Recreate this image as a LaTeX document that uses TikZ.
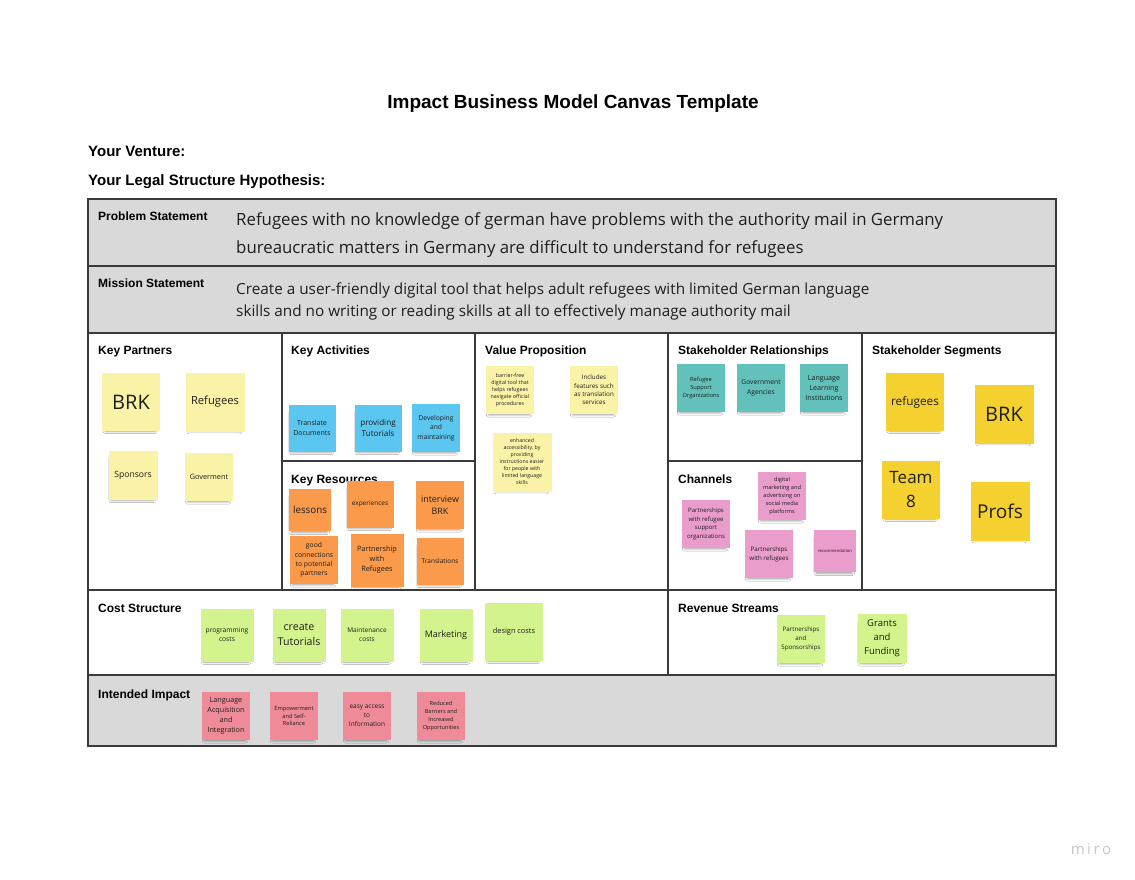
\documentclass[tikz,border=0pt]{standalone}
\usepackage{fontspec}
\setmainfont{Liberation Sans}
\newfontfamily\osans{Open Sans}
\usetikzlibrary{shadows.blur}
\definecolor{lineC}{HTML}{3A3A3A}
\definecolor{grayF}{HTML}{D9D9D9}
\definecolor{cYl}{HTML}{FAF2A6}
\definecolor{cYd}{HTML}{F5D130}
\definecolor{cBl}{HTML}{5BC6F0}
\definecolor{cOr}{HTML}{FA9A4A}
\definecolor{cTe}{HTML}{62C1BB}
\definecolor{cPi}{HTML}{EA9CCB}
\definecolor{cGr}{HTML}{D3F38C}
\definecolor{cRe}{HTML}{EF8B98}
\definecolor{noteText}{HTML}{1E1E1E}
\definecolor{miroC}{HTML}{C5C5CE}
\newcommand\setfs[2]{\fontsize{#1}{#2}\selectfont}
\begin{document}
\begin{tikzpicture}[x=1pt,y=-1pt,
  frame/.style={draw=lineC, line width=1.4pt},
  head/.style={anchor=base west, font=\setfs{12}{14}\bfseries, inner sep=0pt},
  stick/.style n args={3}{minimum width=#1pt, minimum height=#1pt, inner sep=0.5pt, align=center,
    text=noteText, font=\osans\setfs{#2}{#3},
    blur shadow={shadow xshift=-1pt, shadow yshift=-5pt, shadow scale=0.86,
      shadow blur radius=2.5pt, shadow opacity=38}},
  stmt/.style={anchor=base west, inner sep=0pt, text=noteText},
]
\useasboundingbox[fill=white] (0,0) rectangle (1135,880);
% titles
\node[anchor=base, inner sep=0pt, font=\setfs{19}{22}\bfseries] (title) at (573,109) {Impact Business Model Canvas Template};
\node[anchor=base west, inner sep=0pt, font=\setfs{15}{18}\bfseries] (venture) at (88,157) {Your Venture:};
\node[anchor=base west, inner sep=0pt, font=\setfs{15}{18}\bfseries] (legal) at (88,185.5) {Your Legal Structure Hypothesis:};
% gray rows
\fill[grayF] (88,199) rectangle (1056,333);
\fill[grayF] (88,675) rectangle (1056,746);
% grid
\draw[frame] (88,199) rectangle (1056,746);
\draw[frame] (88,266) -- (1056,266);
\draw[frame] (88,333) -- (1056,333);
\draw[frame] (88,590) -- (1056,590);
\draw[frame] (88,675) -- (1056,675);
\foreach \xx in {282,475,668,862} \draw[frame] (\xx,333) -- (\xx,590);
\draw[frame] (282,461) -- (475,461);
\draw[frame] (668,461) -- (862,461);
\draw[frame] (668,590) -- (668,675);
% headings
\node[head] (hPS) at (98,220.5) {Problem Statement};
\node[head] (hMS) at (98,287.5) {Mission Statement};
\node[head] (hKP) at (98,354.3) {Key Partners};
\node[head] (hKA) at (291,354.3) {Key Activities};
\node[head] (hVP) at (485,354.3) {Value Proposition};
\node[head] (hSR) at (678,354.3) {Stakeholder Relationships};
\node[head] (hSS) at (872,354.3) {Stakeholder Segments};
\node[head] (hKR) at (291,483) {Key Resources};
\node[head] (hCH) at (678,483) {Channels};
\node[head] (hCS) at (98,612.5) {Cost Structure};
\node[head] (hRS) at (678,612.5) {Revenue Streams};
\node[head] (hII) at (98,698) {Intended Impact};
% statements
\node[stmt, font=\osans\setfs{16.8}{24}] (ps1) at (236,225.5) {Refugees with no knowledge of german have problems with the authority mail in Germany};
\node[stmt, font=\osans\setfs{16.8}{24}] (ps2) at (236,253.5) {bureaucratic matters in Germany are difficult to understand for refugees};
\node[stmt, font=\osans\setfs{15.3}{22}] (ms1) at (236,294.3) {Create a user-friendly digital tool that helps adult refugees with limited German language};
\node[stmt, font=\osans\setfs{15.3}{22}] (ms2) at (236,316.7) {skills and no writing or reading skills at all to effectively manage authority mail};
% Key Partners
\node[stick={58}{20}{24}, fill=cYl] (kp1) at (131,402) {BRK};
\node[stick={59}{11.2}{14}, fill=cYl] (kp2) at (215,402) {Refugees};
\node[stick={49}{8.6}{11}, fill=cYl] (kp3) at (133,475) {Sponsors};
\node[stick={48}{7.3}{9}, fill=cYl] (kp4) at (209,477) {Goverment};
% Key Activities
\node[stick={47}{7}{9.5}, fill=cBl] (ka1) at (312,428) {Translate\\Documents};
\node[stick={47}{8.1}{10.5}, fill=cBl] (ka2) at (378,428) {providing\\Tutorials};
\node[stick={48}{6.7}{9.3}, fill=cBl] (ka3) at (436,428) {Developing\\and\\maintaining};
% Key Resources
\node[stick={42}{9.8}{12}, fill=cOr] (kr1) at (310,510) {lessons};
\node[stick={47}{6.5}{8}, fill=cOr] (kr2) at (370,504) {experiences};
\node[stick={48}{8.9}{11.5}, fill=cOr] (kr3) at (440,505) {interview\\BRK};
\node[stick={48}{6.8}{9.2}, fill=cOr] (kr4) at (314,560) {good\\connections\\to potential\\partners};
\node[stick={53}{7.3}{10}, fill=cOr] (kr5) at (377,560) {Partnership\\with\\Refugees};
\node[stick={47}{6.5}{8}, fill=cOr] (kr6) at (440,561) {Translations};
% Value Proposition
\node[stick={48}{5.3}{7}, fill=cYl] (vp1) at (510,390) {barrier-free\\digital tool that\\helps refugees\\navigate official\\procedures};
\node[stick={48}{6.3}{8.3}, fill=cYl] (vp2) at (594,390) {Includes\\features such\\as translation\\services};
\node[stick={59}{5.2}{7}, fill=cYl] (vp3) at (522,462) {enhanced\\accessibility, by\\providing\\instructions easier\\for people with\\limited language\\skills};
% Stakeholder Relationships
\node[stick={48}{5.7}{7.7}, fill=cTe] (sr1) at (701,388) {Refugee\\Support\\Organizations};
\node[stick={48}{6.7}{9.7}, fill=cTe] (sr2) at (761,388) {Government\\Agencies};
\node[stick={48}{7.1}{10}, fill=cTe] (sr3) at (824,388) {Language\\Learning\\Institutions};
% Channels
\node[stick={48}{5.6}{7.8}, fill=cPi] (ch1) at (782,496) {digital\\marketing and\\advertising on\\social media\\platforms};
\node[stick={48}{6}{8.5}, fill=cPi] (ch2) at (706,524) {Partnerships\\with refugee\\support\\organizations};
\node[stick={48}{6.2}{9}, fill=cPi] (ch3) at (769,554) {Partnerships\\with refugees};
\node[stick={42}{4.2}{5}, fill=cPi] (ch4) at (835,551) {recommendation};
% Stakeholder Segments
\node[stick={58}{11.8}{14}, fill=cYd] (ss1) at (915,402) {refugees};
\node[stick={59}{20}{24}, fill=cYd] (ss2) at (1004,414) {BRK};
\node[stick={58}{17}{24}, fill=cYd] (ss3) at (911,490) {Team\\8};
\node[stick={59}{19}{23}, fill=cYd] (ss4) at (1000,511) {Profs};
% Cost Structure
\node[stick={53}{6.7}{9}, fill=cGr] (cs1) at (227,635) {programming\\costs};
\node[stick={53}{10.6}{15}, fill=cGr] (cs2) at (299,635) {create\\Tutorials};
\node[stick={53}{6.5}{9}, fill=cGr] (cs3) at (367,635) {Maintenance\\costs};
\node[stick={53}{9}{11}, fill=cGr] (cs4) at (446,635) {Marketing};
\node[stick={58}{7.4}{9}, fill=cGr] (cs5) at (514,632) {design costs};
% Revenue Streams
\node[stick={48}{6.2}{8.7}, fill=cGr] (rs1) at (801,639) {Partnerships\\and\\Sponsorships};
\node[stick={49}{9.5}{14}, fill=cGr] (rs2) at (882,638.5) {Grants\\and\\Funding};
% Intended Impact
\node[stick={48}{7.2}{10}, fill=cRe] (ii1) at (226,716) {Language\\Acquisition\\and\\Integration};
\node[stick={48}{5.7}{7.7}, fill=cRe] (ii2) at (294,716) {Empowerment\\and Self-\\Reliance};
\node[stick={48}{6.5}{8.8}, fill=cRe] (ii3) at (367,716) {easy access\\to\\Information};
\node[stick={48}{5.6}{7.8}, fill=cRe] (ii4) at (441,716) {Reduced\\Barriers and\\Increased\\Opportunities};
% miro logo
\node[anchor=base, inner sep=0pt, font=\osans\setfs{15}{18}, text=miroC] (miro) at (1091,854) {m\,i\,r\,o};
\end{tikzpicture}
\end{document}
